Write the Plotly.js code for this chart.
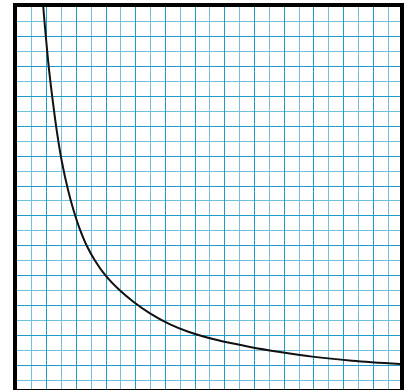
<!DOCTYPE html>
<html>
<head>
<meta charset="utf-8">
<script src="https://cdn.plot.ly/plotly-3.0.1.min.js"></script>
<style>
  html, body { margin: 0; padding: 0; background: #fff; }
  #grafica { width: 408px; height: 390px; }
</style>
</head>
<body>
<div id="grafica"></div>
<script>
// Puntos (en casillas de la cuadrícula, desde la esquina inferior izquierda)
const curvaX = [1.62, 1.77, 2.00, 2.18, 2.41, 2.68, 3.01, 3.46, 3.79, 4.20, 4.70, 5.26, 5.93, 6.94, 7.84, 8.96, 10.31, 11.54, 13.48, 15.70, 17.72, 19.88, 22.57, 25.8];
const curvaY = [28.0, 25.62, 23.0, 21.2, 19.3, 17.3, 15.3, 13.25, 12.05, 10.8, 9.6, 8.6, 7.65, 6.6, 5.85, 5.07, 4.33, 3.84, 3.28, 2.82, 2.48, 2.17, 1.90, 1.68];

// Tamaño del papel cuadriculado visible (en casillas)
const anchoX = [0, 25.8];
const altoY = [0, 25.6];

const curva = {
    x: curvaX,
    y: curvaY,
    type: 'scatter',
    mode: 'lines',
    line: { color: '#111111', width: 2, shape: 'spline', smoothing: 1 },
    hoverinfo: 'skip'
};

const ejeComun = {
    showticklabels: false,
    ticks: '',
    zeroline: false,
    showline: true,
    mirror: true,
    linecolor: '#000000',
    linewidth: 4,
    showgrid: true,
    gridcolor: '#1e9cc6',
    gridwidth: 1,
    tickmode: 'linear',
    dtick: 2,
    fixedrange: true
};

const layout = {
    width: 408,
    height: 390,
    margin: { l: 17, r: 8, t: 7, b: 1 },
    paper_bgcolor: '#ffffff',
    plot_bgcolor: '#ffffff',
    showlegend: false,
    xaxis: Object.assign({}, ejeComun, {
        range: anchoX, tick0: 0,
        minor: { tickmode: 'linear', tick0: 0, dtick: 1, showgrid: true, gridcolor: '#72bfdf', gridwidth: 1 }
    }),
    yaxis: Object.assign({}, ejeComun, {
        range: altoY, tick0: 1.6,
        minor: { tickmode: 'linear', tick0: 0.6, dtick: 1, showgrid: true, gridcolor: '#72bfdf', gridwidth: 1 }
    })
};

Plotly.newPlot('grafica', [curva], layout, { displayModeBar: false, staticPlot: true });
</script>
</body>
</html>
